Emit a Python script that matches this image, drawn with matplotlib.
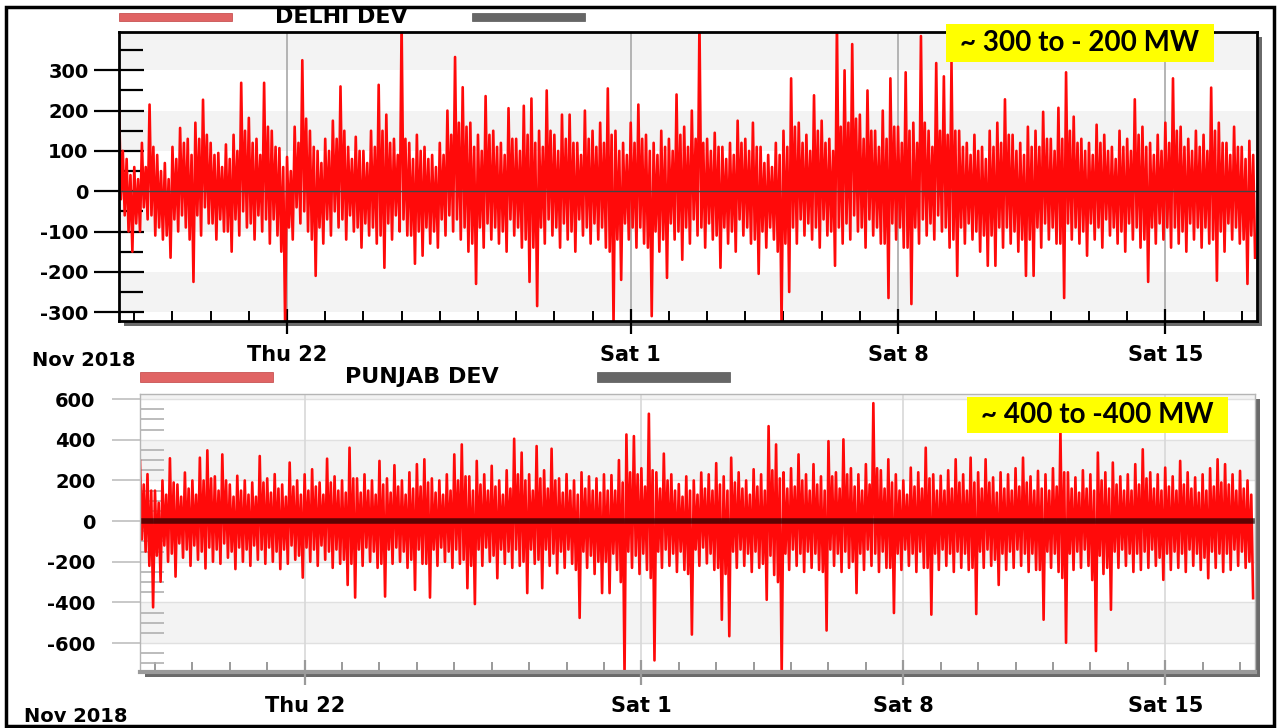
import numpy as np
import matplotlib
matplotlib.use("Agg")
import matplotlib.pyplot as plt
import matplotlib.dates as mdates
from matplotlib.patches import Rectangle
from datetime import datetime

W, H = 1281, 728

# time grid: four readings per 0.2 day block (spike high, body low, body high, spike low)
start = datetime(2018, 11, 17, 14, 24)
step_days = 0.2

delhi_hi = [231, 80, 60, 120, 215, 90, 70, 110, 157, 130,
            170, 227, 120, 95, 116, 140, 269, 182, 130, 269,
            150, 107, 85, 160, 325, 150, 100, 130, 175, 260,
            110, 135, 100, 150, 264, 190, 130, 420, 120, 140,
            110, 90, 120, 200, 333, 258, 170, 140, 236, 150,
            120, 206, 130, 212, 230, 150, 250, 140, 190, 190,
            120, 200, 150, 170, 255, 150, 120, 170, 215, 140,
            120, 150, 130, 240, 160, 200, 420, 130, 145, 110,
            120, 175, 130, 170, 110, 90, 120, 150, 280, 170,
            140, 238, 175, 130, 420, 300, 365, 190, 250, 150,
            200, 280, 160, 295, 170, 385, 150, 318, 285, 320,
            150, 120, 140, 110, 150, 170, 228, 140, 120, 160,
            150, 197, 130, 207, 295, 185, 130, 120, 165, 140,
            110, 150, 130, 228, 160, 120, 140, 170, 280, 160,
            130, 150, 140, 257, 170, 120, 160, 110, 125]
delhi_body_lo = [-20, -100, -80, -40, -60, -90, -110, -70, -60, -120,
                 -60, -40, -80, -70, -100, -70, -50, -80, -60, -70,
                 -70, -150, -90, -40, -50, -120, -90, -70, -50, -70,
                 -60, -90, -80, -90, -110, -80, -60, -70, -110, -100,
                 -90, -100, -70, -60, -70, -90, -130, -90, -80, -90,
                 -100, -70, -90, -120, -140, -90, -70, -90, -80, -100,
                 -70, -90, -80, -90, -150, -120, -80, -90, -90, -140,
                 -100, -120, -80, -100, -90, -70, -90, -80, -110, -90,
                 -100, -70, -90, -120, -100, -90, -150, -130, -90, -70,
                 -80, -90, -70, -100, -90, -80, -60, -90, -70, -90,
                 -130, -80, -90, -140, -90, -70, -80, -60, -90, -120,
                 -90, -80, -100, -110, -110, -90, -90, -100, -120, -120,
                 -90, -80, -90, -130, -80, -90, -100, -80, -90, -70,
                 -90, -100, -80, -90, -120, -90, -80, -90, -90, -100,
                 -80, -90, -90, -120, -100, -80, -90, -120, -110]
delhi_body_hi = [100, 40, 30, 60, 110, 50, 30, 80, 120, 90,
                 130, 140, 90, 60, 80, 100, 150, 120, 90, 160,
                 110, 60, 50, 120, 180, 110, 70, 100, 130, 150,
                 80, 100, 70, 110, 150, 120, 90, 130, 80, 100,
                 80, 60, 90, 140, 170, 160, 110, 100, 140, 110,
                 90, 130, 100, 140, 120, 110, 150, 100, 130, 120,
                 90, 130, 110, 120, 140, 100, 90, 120, 130, 100,
                 90, 110, 100, 140, 110, 130, 120, 100, 110, 80,
                 90, 120, 100, 110, 70, 60, 90, 110, 160, 120,
                 100, 150, 120, 100, 160, 170, 180, 130, 150, 110,
                 130, 160, 120, 150, 120, 170, 110, 150, 140, 150,
                 110, 90, 100, 80, 110, 120, 140, 100, 90, 110,
                 110, 130, 100, 130, 150, 120, 100, 90, 120, 100,
                 80, 110, 100, 140, 110, 90, 100, 120, 150, 110,
                 100, 110, 100, 150, 120, 90, 110, 80, 90]
delhi_lo = [-60, -150, -100, -70, -110, -120, -165, -100, -90, -225,
            -110, -80, -120, -100, -150, -110, -90, -120, -100, -130,
            -110, -330, -120, -80, -100, -210, -130, -110, -90, -120,
            -100, -140, -110, -130, -190, -120, -100, -110, -180, -160,
            -130, -140, -110, -100, -120, -150, -230, -140, -120, -130,
            -150, -110, -140, -225, -285, -130, -110, -140, -120, -150,
            -110, -130, -120, -140, -330, -220, -120, -140, -130, -310,
            -150, -215, -120, -170, -130, -110, -140, -120, -190, -130,
            -150, -110, -130, -205, -140, -120, -330, -250, -130, -110,
            -120, -140, -110, -185, -130, -120, -100, -140, -110, -130,
            -265, -120, -140, -280, -130, -110, -120, -100, -140, -210,
            -130, -120, -150, -185, -185, -140, -130, -150, -210, -210,
            -140, -120, -130, -265, -120, -130, -160, -120, -140, -110,
            -130, -150, -120, -140, -225, -130, -120, -140, -130, -150,
            -120, -140, -130, -222, -150, -120, -130, -230, -165]

punjab_hi = [296, 231, 150, 200, 309, 180, 239, 200, 312, 348,
             220, 328, 180, 223, 200, 190, 320, 210, 231, 180,
             288, 200, 230, 255, 190, 307, 220, 200, 361, 210,
             230, 200, 296, 210, 275, 200, 240, 280, 304, 210,
             200, 230, 328, 377, 220, 296, 230, 272, 200, 250,
             405, 337, 230, 369, 250, 356, 210, 231, 200, 240,
             220, 210, 230, 226, 300, 426, 418, 260, 528, 240,
             332, 230, 182, 220, 200, 239, 230, 285, 220, 312,
             240, 200, 255, 230, 467, 377, 240, 260, 328, 230,
             280, 220, 393, 240, 402, 260, 230, 280, 580, 250,
             304, 230, 200, 263, 240, 361, 230, 223, 250, 304,
             230, 312, 240, 304, 215, 240, 230, 260, 312, 220,
             247, 230, 260, 442, 240, 215, 250, 230, 337, 240,
             288, 220, 230, 280, 353, 240, 230, 263, 220, 296,
             240, 215, 230, 260, 304, 280, 230, 247, 200]
punjab_body_lo = [-90, -220, -170, -120, -160, -110, -140, -120, -150, -130,
                  -140, -110, -150, -130, -140, -120, -140, -130, -150, -140,
                  -120, -170, -130, -140, -120, -150, -140, -190, -210, -140,
                  -130, -150, -210, -140, -130, -150, -190, -140, -210, -140,
                  -130, -150, -140, -190, -220, -140, -130, -170, -140, -150,
                  -140, -200, -140, -190, -140, -160, -150, -140, -240, -150,
                  -170, -200, -200, -160, -300, -150, -170, -160, -280, -150,
                  -140, -160, -150, -260, -140, -130, -160, -230, -260, -150,
                  -140, -160, -150, -210, -170, -300, -160, -140, -160, -150,
                  -160, -250, -140, -160, -150, -200, -160, -140, -160, -150,
                  -230, -160, -140, -160, -150, -230, -160, -140, -160, -150,
                  -160, -230, -150, -140, -190, -160, -150, -140, -160, -160,
                  -240, -150, -160, -280, -160, -150, -140, -290, -170, -230,
                  -150, -140, -160, -160, -150, -140, -180, -160, -150, -160,
                  -140, -160, -180, -150, -160, -160, -140, -150, -200]
punjab_body_hi = [180, 150, 90, 130, 190, 120, 160, 130, 200, 210,
                  150, 200, 120, 150, 130, 120, 190, 140, 160, 120,
                  170, 130, 150, 170, 130, 190, 150, 140, 210, 140,
                  150, 130, 180, 140, 170, 130, 160, 170, 190, 140,
                  130, 150, 200, 220, 150, 180, 150, 170, 130, 160,
                  230, 200, 150, 210, 160, 200, 140, 150, 130, 160,
                  150, 140, 150, 150, 190, 240, 230, 170, 250, 160,
                  200, 150, 120, 150, 130, 160, 150, 180, 150, 190,
                  160, 130, 170, 150, 250, 210, 160, 170, 200, 150,
                  180, 150, 220, 160, 230, 170, 150, 180, 260, 160,
                  190, 150, 130, 170, 160, 210, 150, 150, 160, 190,
                  150, 190, 160, 190, 140, 160, 150, 170, 190, 150,
                  160, 150, 170, 240, 160, 140, 160, 150, 200, 160,
                  180, 150, 150, 180, 210, 160, 150, 170, 150, 180,
                  160, 140, 150, 170, 190, 180, 150, 160, 130]
punjab_lo = [-150, -424, -298, -200, -273, -180, -220, -190, -233, -200,
             -210, -180, -236, -200, -220, -190, -210, -200, -236, -210,
             -190, -278, -200, -220, -190, -230, -210, -314, -376, -220,
             -200, -230, -371, -210, -200, -230, -338, -210, -376, -220,
             -200, -230, -210, -330, -408, -220, -200, -281, -210, -230,
             -220, -354, -210, -330, -220, -257, -230, -210, -476, -230,
             -260, -354, -354, -240, -760, -230, -260, -240, -685, -230,
             -220, -250, -240, -558, -220, -208, -240, -485, -566, -230,
             -220, -250, -230, -387, -265, -760, -240, -220, -250, -230,
             -240, -538, -220, -250, -230, -354, -240, -220, -250, -230,
             -452, -240, -220, -250, -230, -460, -240, -220, -250, -230,
             -240, -457, -230, -220, -314, -240, -230, -220, -250, -240,
             -485, -230, -250, -598, -240, -230, -220, -639, -260, -436,
             -230, -220, -250, -240, -230, -220, -289, -240, -230, -250,
             -220, -240, -281, -230, -250, -240, -220, -230, -379]

major_dates = [datetime(2018, 11, 22), datetime(2018, 12, 1),
               datetime(2018, 12, 8), datetime(2018, 12, 15)]
major_labels = ["Thu 22", "Sat 1", "Sat 8", "Sat 15"]


def interleave(*series):
    # block by block: spike high, body low, body high, spike low
    return np.column_stack(series).ravel()


def fx(px):
    return px / W


def fy(py):
    return 1 - py / H


fig = plt.figure(figsize=(W / 100, H / 100), dpi=100)
fig.patch.set_facecolor("white")

t0 = mdates.date2num(start)
xmin = t0
xmax = t0 + step_days * len(delhi_hi)

panels = [
    dict(rect=(119, 32, 1257, 321),
         series=(delhi_hi, delhi_body_lo, delhi_body_hi, delhi_lo), ylim=(-322, 395),
         ymajor=np.arange(-300, 301, 100), yminor=np.arange(-300, 351, 50),
         bands=[(300, 400), (100, 200), (-100, 0), (-300, -200)],
         spine="black", tickcol="black", grid="#a8a8a8", dark=True),
    dict(rect=(140, 394, 1255, 672),
         series=(punjab_hi, punjab_body_lo, punjab_body_hi, punjab_lo), ylim=(-742, 625),
         ymajor=np.arange(-600, 601, 200), yminor=np.arange(-700, 601, 50),
         bands=[(600, 800), (200, 400), (-200, 0), (-600, -400)],
         spine="#b5b5b5", tickcol="#9a9a9a", grid="#d8d8d8", dark=False),
]

for p in panels:
    x0, y0, x1, y1 = p["rect"]
    # drop shadow right/bottom
    fig.patches.append(Rectangle((fx(x0 + 5), fy(y1 + 5)), fx(x1 - x0), (y1 - y0) / H,
                                 transform=fig.transFigure, facecolor="#6a6a6a",
                                 edgecolor="none", zorder=-1))
    ax = fig.add_axes([fx(x0), fy(y1), fx(x1 - x0), (y1 - y0) / H])
    ax.set_facecolor("white")
    for lo_b, hi_b in p["bands"]:
        ax.axhspan(lo_b, hi_b, color="#f3f3f3", lw=0, zorder=0)
    if not p["dark"]:
        for v in p["ymajor"]:
            ax.axhline(v, color="#e0e0e0", lw=1, zorder=0.5)
    for d in major_dates:
        ax.axvline(mdates.date2num(d), color=p["grid"], lw=1.2, zorder=0.6)

    ys = interleave(*p["series"])
    xs = t0 + np.arange(len(ys)) * step_days / 4
    ax.plot(xs, ys, color="#ff0a0a", lw=1.9, zorder=2)

    if p["dark"]:
        ax.axhline(0, color="#444444", lw=1.0, zorder=3)
    else:
        ax.axhline(0, color="#1a0000", lw=4, alpha=0.7, zorder=3)

    ax.set_xlim(xmin, xmax)
    ax.set_ylim(*p["ylim"])

    ax.set_yticks(p["ymajor"])
    ax.set_yticklabels([str(v) for v in p["ymajor"]], fontsize=14, fontweight="bold",
                       family="DejaVu Sans")
    ax.set_yticks([v for v in p["yminor"] if v not in p["ymajor"]], minor=True)
    ax.set_xticks([mdates.date2num(d) for d in major_dates])
    ax.set_xticklabels(major_labels, fontsize=15, fontweight="bold", family="DejaVu Sans")
    days = np.arange(np.ceil(xmin), xmax)
    ax.set_xticks(days, minor=True)

    if p["dark"]:
        ax.tick_params(axis="y", which="major", direction="inout", length=36, width=1.6,
                       color=p["tickcol"], pad=4)
        ax.tick_params(axis="y", which="minor", direction="in", length=17, width=1.6,
                       color=p["tickcol"])
    else:
        ax.tick_params(axis="y", which="major", direction="out", length=20, width=1.4,
                       color="#c8c8c8", pad=12)
        ax.tick_params(axis="y", which="minor", direction="in", length=17, width=1.2,
                       color="#b0b0b0")
    ax.tick_params(axis="x", which="major", direction="inout", length=18, width=1.6,
                   color=p["tickcol"], pad=8)
    ax.tick_params(axis="x", which="minor", direction="in", length=7, width=1.4,
                   color=p["tickcol"])

    for side, sp in ax.spines.items():
        sp.set_color(p["spine"])
        sp.set_linewidth(2 if p["dark"] else 1)
        sp.set_zorder(4)
    if not p["dark"]:
        ax.spines["bottom"].set_color("#9a9a9a")
        ax.spines["bottom"].set_linewidth(3)

# legend rows
legend_rows = [
    ("DELHI DEV", (119, 232), (472, 585), 341, 17, 8),
    ("PUNJAB DEV", (140, 273), (597, 730), 422, 377, 10),
]
for name, red_span, grey_span, tx, ty, hh in legend_rows:
    fig.patches.append(Rectangle((fx(red_span[0]), fy(ty + hh / 2)), fx(red_span[1] - red_span[0]),
                                 hh / H, transform=fig.transFigure, facecolor="#e06464",
                                 edgecolor="#c04040", lw=0.5))
    fig.patches.append(Rectangle((fx(grey_span[0]), fy(ty + hh / 2)), fx(grey_span[1] - grey_span[0]),
                                 hh / H, transform=fig.transFigure, facecolor="#666666",
                                 edgecolor="#555555", lw=0.5))
    fig.text(fx(tx), fy(ty), name, ha="center", va="center", fontsize=16,
             fontweight="bold", family="DejaVu Sans")

# month labels
fig.text(fx(32), fy(360), "Nov 2018", ha="left", va="center", fontsize=14,
         fontweight="bold", family="DejaVu Sans")
fig.text(fx(24), fy(717), "Nov 2018", ha="left", va="center", fontsize=14,
         fontweight="bold", family="DejaVu Sans")

# yellow notes
notes = [("~ 300 to - 200 MW", (946, 24, 1214, 62)),
         ("~ 400 to -400 MW", (967, 397, 1228, 433))]
for txt, (bx0, by0, bx1, by1) in notes:
    fig.patches.append(Rectangle((fx(bx0), fy(by1)), fx(bx1 - bx0), (by1 - by0) / H,
                                 transform=fig.transFigure, facecolor="#ffff00",
                                 edgecolor="none", zorder=5))
    fig.text(fx((bx0 + bx1) / 2), fy((by0 + by1) / 2), txt, ha="center", va="center",
             fontsize=20, fontweight="bold", family="Lato", zorder=6)

# outer frame
fig.patches.append(Rectangle((fx(6), fy(726)), fx(1268), 719 / H, transform=fig.transFigure,
                             facecolor="none", edgecolor="black", lw=2.5, zorder=10))

fig.savefig("out.png", dpi=100)
